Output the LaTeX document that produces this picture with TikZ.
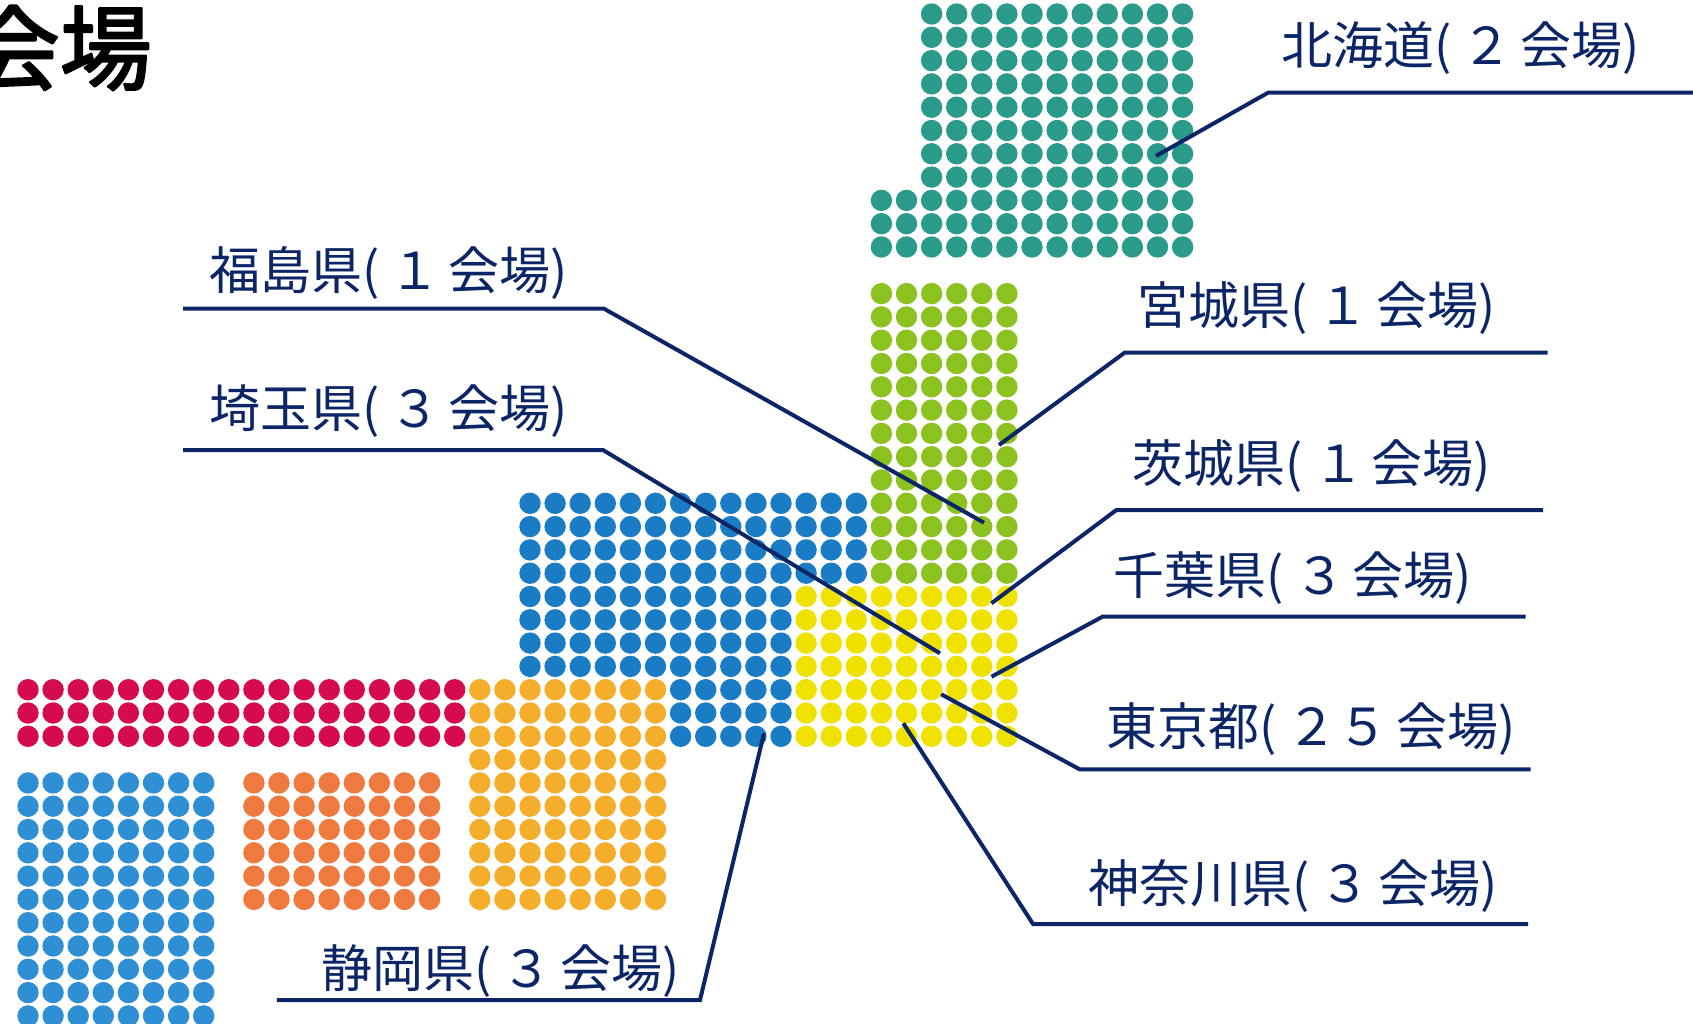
\documentclass[tikz,border=0pt]{standalone}
\usepackage{fontspec}
\newfontfamily\jp{Noto Sans CJK JP}
\newfontfamily\jpbold[FakeBold=2.5]{Noto Sans CJK JP}
\definecolor{navy}{HTML}{0B2566}
\definecolor{dotteal}{HTML}{2A9A8B}
\definecolor{dotgreen}{HTML}{8CC21F}
\definecolor{dotblue}{HTML}{1B7CC6}
\definecolor{dotyellow}{HTML}{F0E200}
\definecolor{dotorange}{HTML}{F5AD2C}
\definecolor{dotred}{HTML}{D60A4E}
\definecolor{dotsky}{HTML}{2E8FD4}
\definecolor{dotcoral}{HTML}{EF7A3F}
% Lưới chấm
\def\gapx{25.1}
\def\gapy{23.3}
\def\orgx{530}
\def\orgy{503.3}
\newcommand{\dotblock}[5]{%
  \foreach \cc in {#2,...,#3}{\foreach \rr in {#4,...,#5}{%
    \fill[#1] ({\orgx+\gapx*\cc},{\orgy+\gapy*\rr}) circle(10.7pt);}}}
% Nhãn: tên (số hội trường)
\newcommand{\kaijo}[2]{#1(\hspace{0.2em}#2\hspace{0.15em}会場)}
\begin{document}
\begin{tikzpicture}[x=1pt, y=-1pt, line join=round, line cap=round,
  lbl/.style={font=\jp\fontsize{51}{58}\selectfont, text=navy, inner sep=0pt, anchor=south west},
  leader/.style={draw=navy, line width=4pt, line cap=butt, line join=miter}]
\useasboundingbox (0,0) rectangle (1693,1024);
% Tiêu đề
\node[font=\jpbold\fontsize{92}{100}\selectfont, inner sep=0pt, anchor=east] (title) at (152,48) {会場};
% Các khối chấm
\dotblock{dotteal}{16}{26}{-21}{-14}
\dotblock{dotteal}{14}{26}{-13}{-11}
\dotblock{dotgreen}{14}{19}{-9}{3}
\dotblock{dotblue}{0}{13}{0}{3}
\dotblock{dotblue}{0}{10}{4}{7}
\dotblock{dotblue}{6}{10}{8}{10}
\dotblock{dotyellow}{11}{19}{4}{10}
\dotblock{dotorange}{-2}{5}{8}{17}
\dotblock{dotred}{-20}{-3}{8}{10}
\dotblock{dotsky}{-20}{-13}{12}{22}
\dotblock{dotcoral}{-11}{-4}{12}{17}
% Điểm đầu, điểm gãy và điểm cuối của đường dẫn
\coordinate (hokkaido-pt) at (1156,156);
\coordinate (hokkaido-k) at (1268,92.7);
\coordinate (hokkaido-e) at (1693,92.7);
\coordinate (fukushima-pt) at (984,522.7);
\coordinate (fukushima-k) at (604,308.7);
\coordinate (fukushima-e) at (183,308.7);
\coordinate (saitama-pt) at (940,653.3);
\coordinate (saitama-k) at (603,450);
\coordinate (saitama-e) at (183,450);
\coordinate (miyagi-pt) at (999,445);
\coordinate (miyagi-k) at (1124.6,352.7);
\coordinate (miyagi-e) at (1547.5,352.7);
\coordinate (ibaraki-pt) at (991.4,603.3);
\coordinate (ibaraki-k) at (1116.4,510);
\coordinate (ibaraki-e) at (1543,510);
\coordinate (chiba-pt) at (991.5,676.7);
\coordinate (chiba-k) at (1102.5,616.7);
\coordinate (chiba-e) at (1525.5,616.7);
\coordinate (tokyo-pt) at (941.2,694.3);
\coordinate (tokyo-k) at (1079.6,769.3);
\coordinate (tokyo-e) at (1530.7,769.3);
\coordinate (kanagawa-pt) at (903.3,723.3);
\coordinate (kanagawa-k) at (1033,924);
\coordinate (kanagawa-e) at (1528,924);
\coordinate (shizuoka-pt) at (764,733.3);
\coordinate (shizuoka-k) at (700,1000);
\coordinate (shizuoka-e) at (276.8,1000);
% Vẽ các đường dẫn
\draw[leader] (hokkaido-pt) -- (hokkaido-k) -- (hokkaido-e);
\draw[leader] (fukushima-pt) -- (fukushima-k) -- (fukushima-e);
\draw[leader] (saitama-pt) -- (saitama-k) -- (saitama-e);
\draw[leader] (miyagi-pt) -- (miyagi-k) -- (miyagi-e);
\draw[leader] (ibaraki-pt) -- (ibaraki-k) -- (ibaraki-e);
\draw[leader] (chiba-pt) -- (chiba-k) -- (chiba-e);
\draw[leader] (tokyo-pt) -- (tokyo-k) -- (tokyo-e);
\draw[leader] (kanagawa-pt) -- (kanagawa-k) -- (kanagawa-e);
\draw[leader] (shizuoka-pt) -- (shizuoka-k) -- (shizuoka-e);
% Gán nhãn
\node[lbl] (hokkaido) at (1281,75) {\kaijo{北海道}{２}};
\node[lbl] (fukushima) at (209,300) {\kaijo{福島県}{１}};
\node[lbl] (saitama) at (209,438) {\kaijo{埼玉県}{３}};
\node[lbl] (miyagi) at (1137,335) {\kaijo{宮城県}{１}};
\node[lbl] (ibaraki) at (1132.6,493) {\kaijo{茨城県}{１}};
\node[lbl] (chiba) at (1113.5,604.7) {\kaijo{千葉県}{３}};
\node[lbl] (tokyo) at (1106,756) {\kaijo{東京都}{２５}};
\node[lbl] (kanagawa) at (1088,913) {\kaijo{神奈川県}{３}};
\node[lbl] (shizuoka) at (321,998) {\kaijo{静岡県}{３}};
\end{tikzpicture}
\end{document}
